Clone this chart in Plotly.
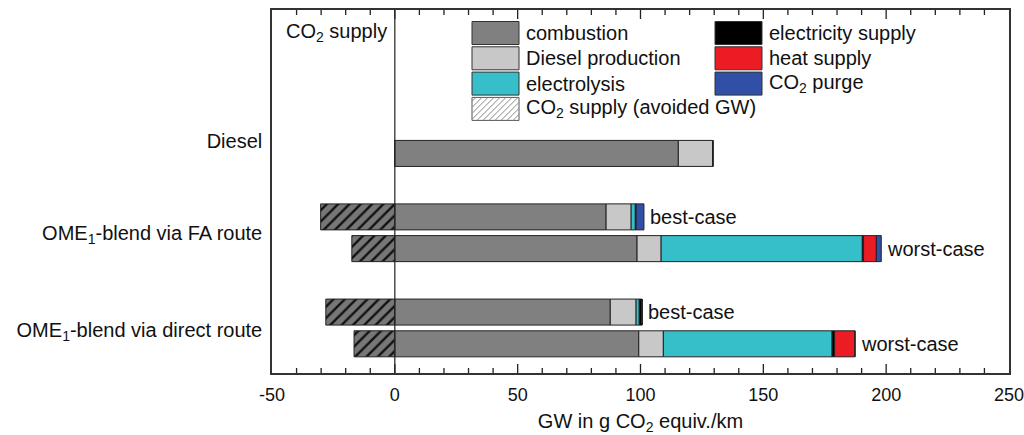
import plotly.graph_objects as go

# rows of the chart (top to bottom)
rows = ["Diesel", "FA best", "FA worst", "direct best", "direct worst"]
row_slots = [0, 2, 3, 5, 6]

combustion = [115.4, 86.0, 98.6, 87.7, 99.3]
diesel_production = [14.0, 10.2, 9.8, 10.5, 10.0]
electrolysis = [0, 1.7, 81.9, 1.3, 68.7]
electricity_supply = [0, 0.3, 0.5, 1.1, 1.0]
heat_supply = [0, 0, 5.2, 0, 8.3]
co2_purge = [0, 3.2, 2.0, 0, 0]
co2_supply = [0, -30.2, -17.5, -28.1, -16.6]
case_labels = ["", "best-case", "worst-case", "best-case", "worst-case"]

group_labels = ["Diesel", "OME<sub>1</sub>-blend via FA route",
                "OME<sub>1</sub>-blend via direct route"]
group_label_slots = [-0.4, 2.5, 5.55]

x_ticks = [-50, 0, 50, 100, 150, 200, 250]
x_ticktext = ["-50", "0", "50", "100", "150", "200", "250"]
x_minor_step = 10

FONT = "Liberation Sans, Arial, sans-serif"
W, H = 1024, 435
L, R, T, B = 272, 15, 10, 62
PW, PH = W - L - R, H - T - B

series = [
    ("combustion", combustion, "#808080"),
    ("Diesel production", diesel_production, "#c8c8c8"),
    ("electrolysis", electrolysis, "#36bfc9"),
    ("electricity supply", electricity_supply, "#000000"),
    ("heat supply", heat_supply, "#ec1c24"),
    ("CO<sub>2</sub> purge", co2_purge, "#3050a8"),
]

fig = go.Figure()

fig.add_trace(go.Bar(
    y=row_slots, x=co2_supply, orientation="h", width=0.82,
    name="CO2 supply",
    marker=dict(color="#777777", line=dict(color="#222", width=1),
                pattern=dict(shape="/", bgcolor="#777777", fgcolor="#111",
                             size=8, solidity=0.3)),
))
for name, vals, col in series:
    fig.add_trace(go.Bar(
        y=row_slots, x=vals, orientation="h", width=0.82, name=name,
        marker=dict(color=col, line=dict(color="#222", width=1)),
    ))

# end-of-bar case labels
totals = [sum(v) for v in zip(combustion, diesel_production, electrolysis,
                              electricity_supply, heat_supply, co2_purge)]
for slot, tot, lab in zip(row_slots, totals, case_labels):
    if lab:
        fig.add_annotation(x=tot, y=slot, text=lab, showarrow=False,
                           xanchor="left", xshift=4, font=dict(size=20, color="#111"))


def px(x):
    return (x - L) / PW


def py(y):
    return 1 - (y - T) / PH


# manual legend: two columns of large swatches
legend_items = [
    (0, 0, "combustion", "#808080"),
    (0, 1, "Diesel production", "#c8c8c8"),
    (0, 2, "electrolysis", "#36bfc9"),
    (1, 0, "electricity supply", "#000000"),
    (1, 1, "heat supply", "#ec1c24"),
    (1, 2, "CO<sub>2</sub> purge", "#3050a8"),
]
col_x = [472, 715]
row_y0, pitch, sw, sh = 21.5, 25.3, 47, 23
for c, r, label, colr in legend_items:
    x0, y0 = col_x[c], row_y0 + r * pitch
    fig.add_shape(type="rect", xref="paper", yref="paper", opacity=1,
                  x0=px(x0), x1=px(x0 + sw), y0=py(y0), y1=py(y0 + sh),
                  fillcolor=colr, line=dict(color="#333", width=1))
    fig.add_annotation(xref="paper", yref="paper", x=px(x0 + sw + 5), y=py(y0 + sh / 2),
                       text=label, showarrow=False, xanchor="left", yanchor="middle",
                       font=dict(size=20, color="#111"))

# hatched swatch
hx0, hy0 = col_x[0], row_y0 + 3 * pitch
hx1, hy1 = hx0 + sw, hy0 + sh
path = ""
c = hx0 + hy0 + 4
while c < hx1 + hy1:
    xa, xb = max(hx0, c - hy1), min(hx1, c - hy0)
    if xb > xa:
        path += f"M{px(xa)},{py(c - xa)} L{px(xb)},{py(c - xb)} "
    c += 6
fig.add_shape(type="rect", xref="paper", yref="paper", opacity=1,
              x0=px(hx0), x1=px(hx1), y0=py(hy0), y1=py(hy1),
              fillcolor="white", line=dict(color="#555", width=1))
fig.add_shape(type="path", xref="paper", yref="paper", path=path, opacity=1,
              line=dict(color="#888", width=1))
fig.add_annotation(xref="paper", yref="paper", x=px(hx1 + 5), y=py((hy0 + hy1) / 2),
                   text="CO<sub>2</sub> supply (avoided GW)", showarrow=False,
                   xanchor="left", yanchor="middle", font=dict(size=20, color="#111"))

# inward ticks on bottom and top frame edges
tick_path = ""
for v in range(x_ticks[0], x_ticks[-1] + 1, x_minor_step):
    if v in (x_ticks[0], x_ticks[-1]):
        continue
    ln = (9 if v in x_ticks else 5) / PH
    tick_path += f"M{v},0 L{v},{ln} M{v},1 L{v},{1 - ln} "
fig.add_shape(type="path", xref="x", yref="paper", path=tick_path, opacity=1,
              line=dict(color="#222", width=1.3), layer="above")

# zero line and CO2 supply label
fig.add_shape(type="line", xref="x", yref="paper", x0=0, x1=0, y0=0, y1=1, opacity=1,
              line=dict(color="#222", width=1.2), layer="above")
fig.add_annotation(xref="x", yref="paper", x=0, y=py(33), xshift=-6,
                   text="CO<sub>2</sub> supply", showarrow=False,
                   xanchor="right", yanchor="middle", font=dict(size=20, color="#111"))

fig.update_layout(
    template="none",
    width=W, height=H,
    margin=dict(l=L, r=R, t=T, b=B),
    barmode="relative",
    plot_bgcolor="white", paper_bgcolor="white",
    font=dict(family=FONT, size=20, color="#111"),
    showlegend=False,
    xaxis=dict(
        range=[-50, 250], tickvals=x_ticks, ticktext=x_ticktext,
        tickfont=dict(size=18), ticks="",
        showline=True, linecolor="#333", linewidth=1.5, mirror=True,
        showgrid=False, zeroline=False, automargin=False,
        ticklabelstandoff=5, ticklabeloverflow="allow",
        title=dict(text="GW in g CO<sub>2</sub> equiv./km", standoff=10,
                   font=dict(size=20)),
    ),
    yaxis=dict(
        range=[6.92, -4.52], tickvals=group_label_slots, ticktext=group_labels,
        ticks="", showline=True, linecolor="#333", linewidth=1.5, mirror=True,
        showgrid=False, zeroline=False, ticklabelstandoff=4, automargin=False,
    ),
)

fig.write_html("out.html", config={"displayModeBar": False},
               post_script="document.body.style.margin='0';")
